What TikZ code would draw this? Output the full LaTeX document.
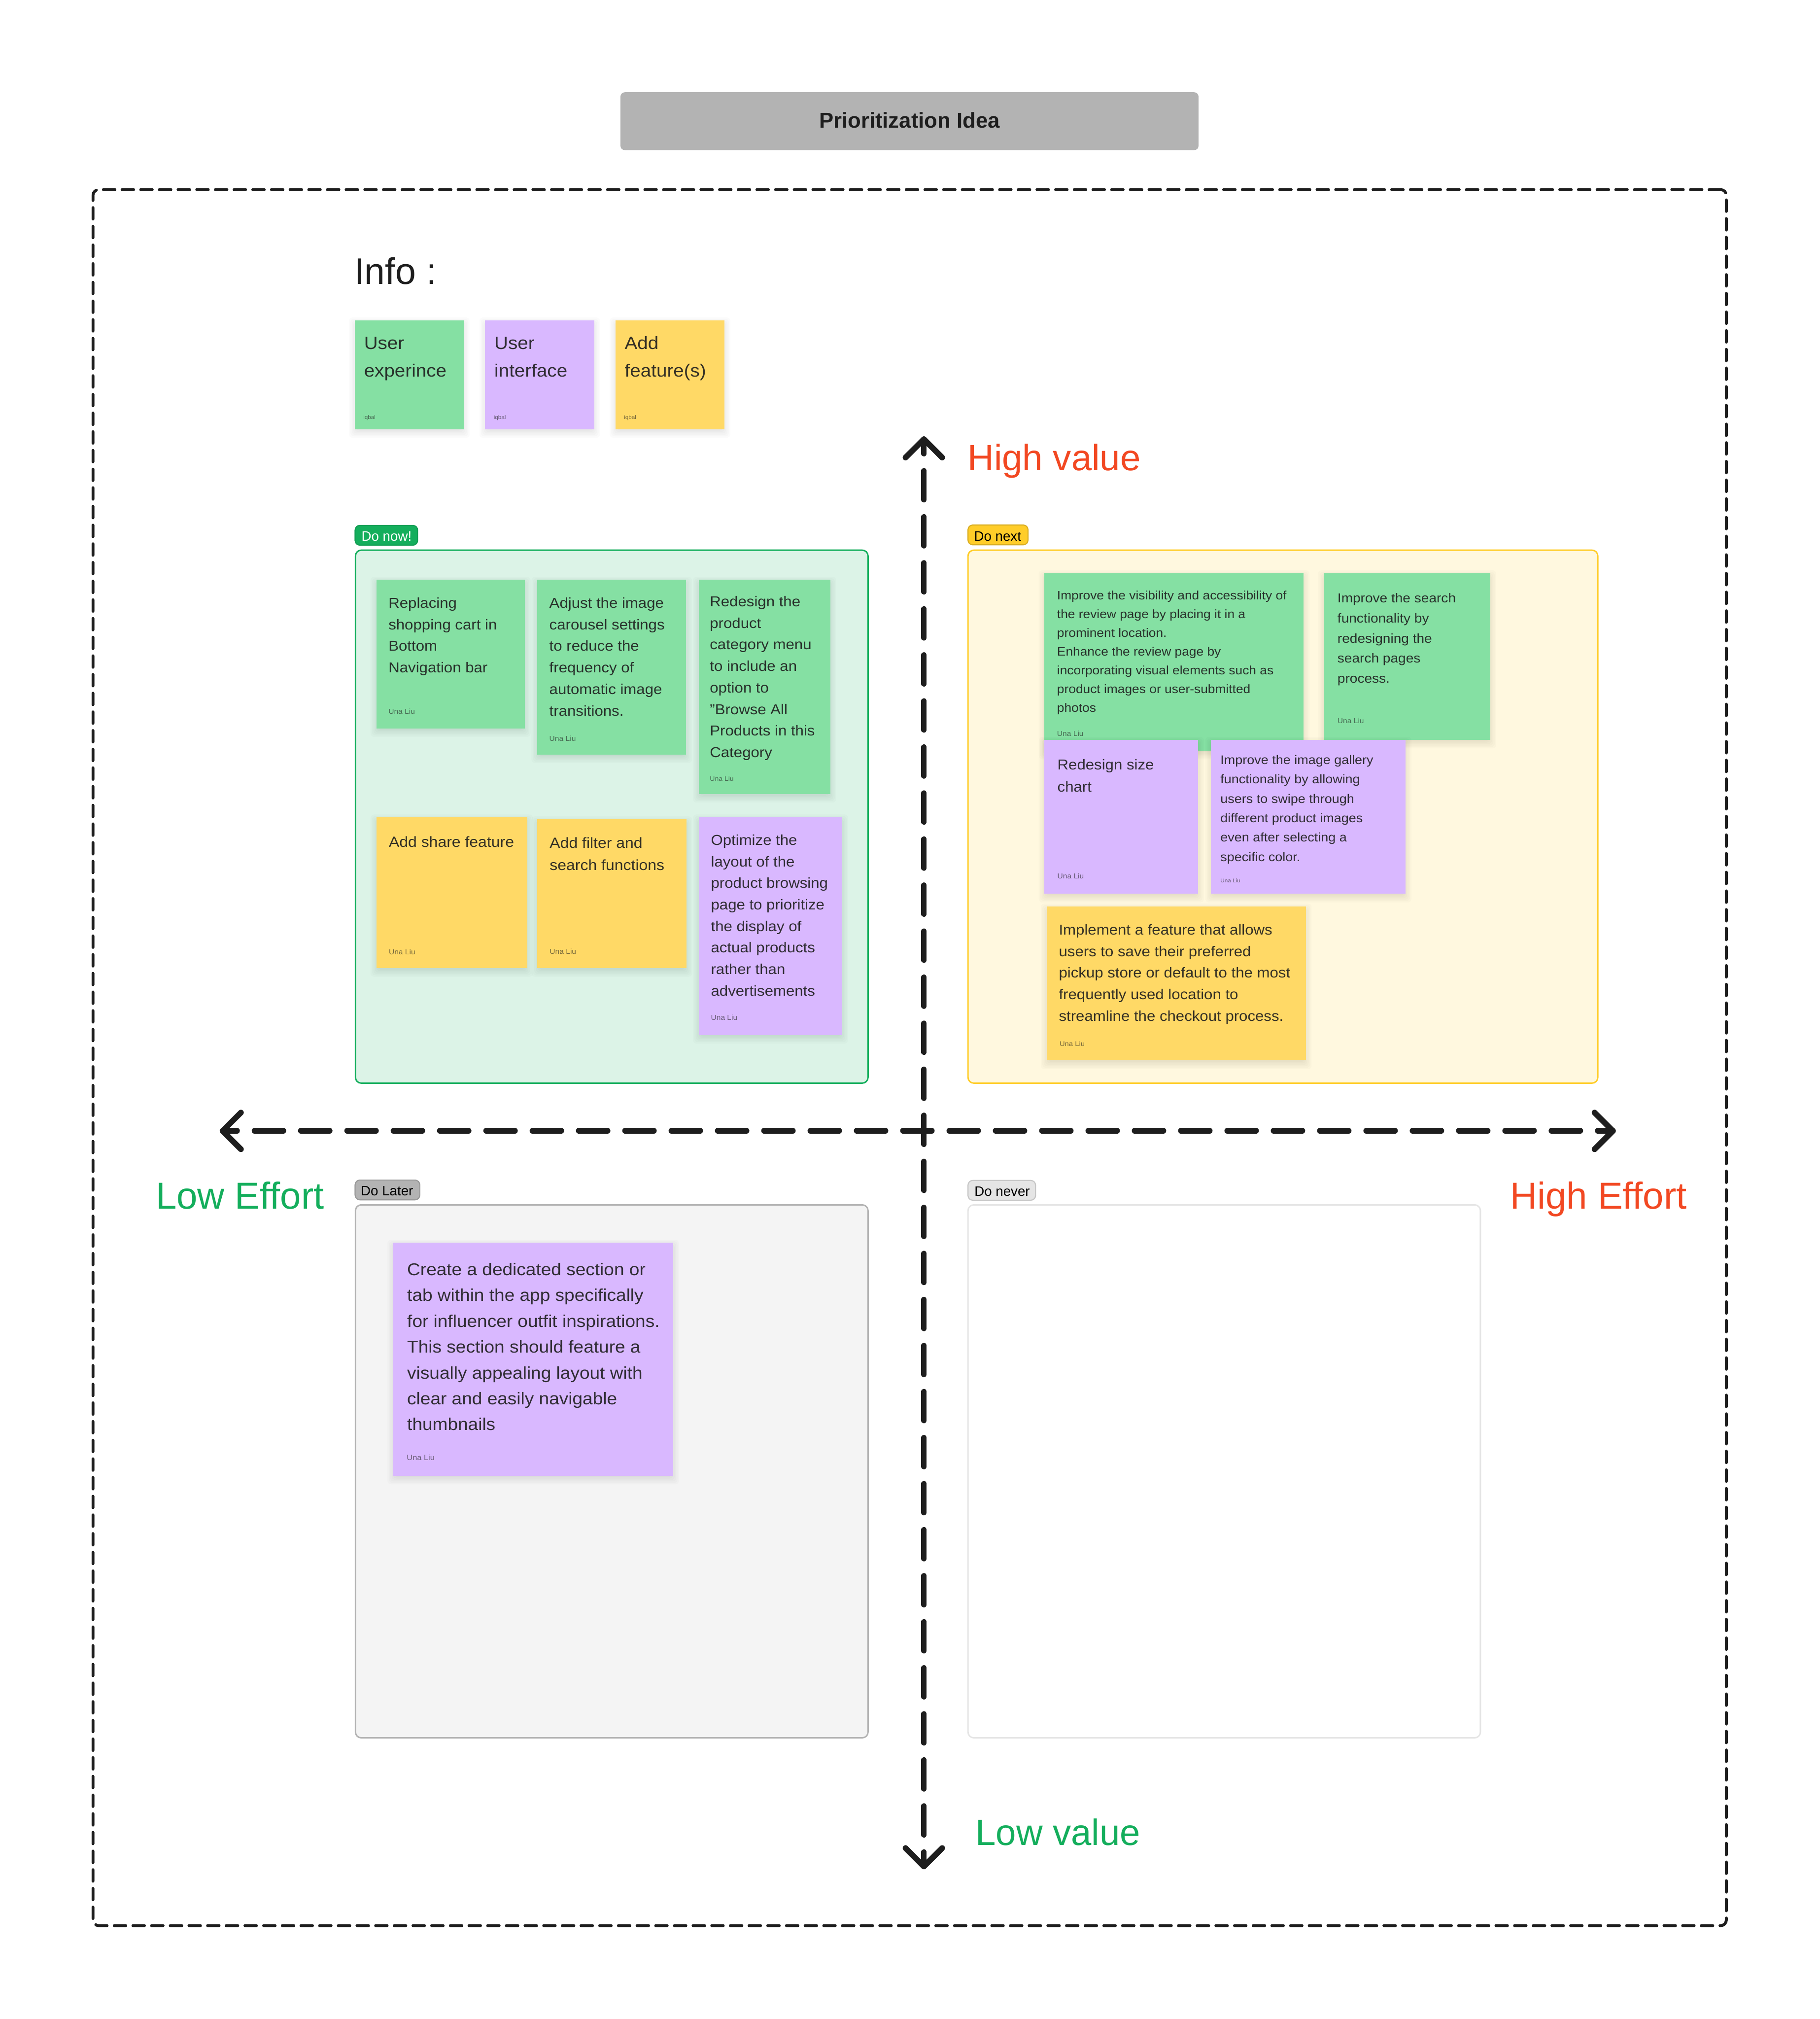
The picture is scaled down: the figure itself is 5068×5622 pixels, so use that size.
\documentclass[tikz,border=0pt]{standalone}
\usepackage{fontspec}
\setmainfont{Liberation Sans}[FakeStretch=1.07]
\newfontfamily\plainsans{Liberation Sans}
\definecolor{ink}{HTML}{1E1E1E}
\definecolor{notegreen}{HTML}{85E0A3}
\definecolor{notepurple}{HTML}{D9B8FF}
\definecolor{noteyellow}{HTML}{FFD966}
\definecolor{goodgreen}{HTML}{14AE5C}
\definecolor{hotred}{HTML}{F24822}
\definecolor{tagyellow}{HTML}{FFCD29}
\definecolor{taggrey}{HTML}{B3B3B3}
\tikzset{
  notebox/.style={rectangle,anchor=north west,inner sep=0pt,outer sep=0pt,draw=none},
  panelbox/.style={rectangle,anchor=north west,inner sep=0pt,outer sep=0pt,line width=0.8pt,rounded corners=3.2pt},
  tagbox/.style={rectangle,anchor=north west,inner sep=0pt,outer sep=0pt,line width=0.6pt,rounded corners=2.6pt},
  tagtext/.style={anchor=base west,inner sep=0pt,font=\plainsans\fontsize{7.6pt}{9pt}\selectfont},
  axisline/.style={ink,line width=3.2pt,line cap=round,line join=round},
  headline/.style={anchor=base west,inner sep=0pt,font=\plainsans\fontsize{20.4pt}{24pt}\selectfont},
  effortline/.style={anchor=base west,inner sep=0pt,font=\plainsans\fontsize{20.9pt}{24pt}\selectfont}
}
% name, x0, y0, x1, y1, colour
\newcommand{\stickynote}[6]{%
  \foreach \sp in {-4,0,4,8,12,16}{%
    \fill[black,opacity=0.014,rounded corners=2pt] (#2-\sp,#3-\sp+8) rectangle (#4+\sp,#5+\sp+8);}%
  \node[notebox,fill=#6,minimum width={(#4-#2)*0.2pt},minimum height={(#5-#3)*0.2pt}] (#1) at (#2,#3) {};}
% name, x, first baseline, size px, leading px, text
\newcommand{\notetext}[6]{%
  \pgfmathsetmacro{\ntfs}{#4*0.2}\pgfmathsetmacro{\ntld}{#5*0.2}\pgfmathsetmacro{\ntrh}{#4*0.18}%
  \node[anchor=north west,inner sep=0pt,outer sep=0pt,align=left,text=ink,text opacity=0.9,
        font=\fontsize{\ntfs pt}{\ntld pt}\selectfont] (#1) at ({#2-1},{#3-0.9*#4}) {\rule{0pt}{\ntrh pt}#6};}
% name, x, baseline, size px, text
\newcommand{\noteauthor}[5]{%
  \pgfmathsetmacro{\ntfs}{#4*0.2}%
  \node[anchor=base west,inner sep=0pt,outer sep=0pt,text=ink,text opacity=0.6,
        font=\fontsize{\ntfs pt}{\ntfs pt}\selectfont] (#1) at ({#2-1},#3) {#5};}
\begin{document}
\begin{tikzpicture}[x=0.2pt,y=-0.2pt]
\useasboundingbox (0,0) rectangle (5068,5622);
\fill[white] (0,0) rectangle (5068,5622);

% title
\node[rectangle,anchor=north west,inner sep=0pt,fill=taggrey,rounded corners=2.4pt,
      minimum width={(3339-1729)*0.2pt},minimum height={(417-256)*0.2pt}] (titlebar) at (1727,256) {};
\node[anchor=base,inner sep=0pt,text=ink,font=\plainsans\bfseries\fontsize{12pt}{14pt}\selectfont] (titletext) at (2533,356) {Prioritization Idea};

% outer frame
\node[rectangle,anchor=north west,inner sep=0pt,outer sep=0pt,draw=ink,line width=1.6pt,line cap=round,
      dash pattern=on 6.4pt off 4pt,rounded corners=3.2pt,
      minimum width={(4808-259)*0.2pt},minimum height={(5362-528)*0.2pt}] (frame) at (259,528) {};

% info
\node[anchor=base west,inner sep=0pt,text=ink,font=\plainsans\fontsize{20.6pt}{24pt}\selectfont] (info) at (986,791) {Info :};
\stickynote{legA}{988}{892}{1292}{1195}{notegreen}
\stickynote{legB}{1351}{892}{1655}{1195}{notepurple}
\stickynote{legC}{1714}{892}{2018}{1195}{noteyellow}
\notetext{legAt}{1015}{973}{49.5}{76}{User\\experince}
\notetext{legBt}{1378}{973}{49.5}{76}{User\\interface}
\notetext{legCt}{1741}{973}{49.5}{76}{Add\\feature(s)}
\noteauthor{legAa}{1013}{1167}{15}{iqbal}
\noteauthor{legBa}{1376}{1167}{15}{iqbal}
\noteauthor{legCa}{1739}{1167}{15}{iqbal}

% panels
\node[panelbox,draw=goodgreen,fill=goodgreen!15!white,minimum width={1427.5*0.2pt},minimum height={1484*0.2pt}] (panelnow) at (990,1532) {};
\node[panelbox,draw=tagyellow,fill=tagyellow!15!white,minimum width={1754*0.2pt},minimum height={1484*0.2pt}] (panelnext) at (2696,1532) {};
\node[panelbox,draw=taggrey,fill=black!4.5!white,minimum width={1427.5*0.2pt},minimum height={1484*0.2pt}] (panellater) at (990,3355) {};
\node[panelbox,draw=black!10!white,fill=white,minimum width={1427*0.2pt},minimum height={1484*0.2pt}] (panelnever) at (2696,3355) {};

% tags
\node[tagbox,fill=goodgreen,draw=goodgreen!90!black,minimum width={174*0.2pt},minimum height={55*0.2pt}] (tagnow) at (989,1463) {};
\node[tagtext,text=white] (tagnowt) at (1006,1507) {Do now!};
\node[tagbox,fill=tagyellow,draw=tagyellow!85!black,minimum width={167*0.2pt},minimum height={55*0.2pt}] (tagnext) at (2696,1462) {};
\node[tagtext,text=black] (tagnextt) at (2712,1507) {Do next};
\node[tagbox,fill=taggrey,draw=black!40!white,minimum width={180*0.2pt},minimum height={55*0.2pt}] (taglater) at (989,3286) {};
\node[tagtext,text=black] (taglatert) at (1004,3329) {Do Later};
\node[tagbox,fill=black!10!white,draw=black!22!white,minimum width={188*0.2pt},minimum height={55*0.2pt}] (tagnever) at (2696,3287) {};
\node[tagtext,text=black] (tagnevert) at (2713,3330) {Do never};

% Do now!
\stickynote{nA}{1048}{1614}{1462}{2028}{notegreen}
\stickynote{nB}{1496}{1614}{1911}{2101}{notegreen}
\stickynote{nC}{1946}{1614}{2313}{2211}{notegreen}
\stickynote{nD}{1048}{2276}{1468}{2696}{noteyellow}
\stickynote{nE}{1496}{2281}{1912}{2696}{noteyellow}
\stickynote{nF}{1946}{2276}{2346}{2882}{notepurple}
\notetext{nAt}{1083}{1693}{40}{60}{Replacing\\shopping cart in\\Bottom\\Navigation bar}
\notetext{nBt}{1531}{1693}{40}{60}{Adjust the image\\carousel settings\\to reduce the\\frequency of\\automatic image\\transitions.}
\notetext{nCt}{1978}{1689}{40}{60}{Redesign the\\product\\category menu\\to include an\\option to\\"Browse All\\Products in this\\Category}
\notetext{nDt}{1084}{2359}{41}{62}{Add share feature}
\notetext{nEt}{1532}{2361}{41}{62}{Add filter and\\search functions}
\notetext{nFt}{1981}{2353}{40}{60}{Optimize the\\layout of the\\product browsing\\page to prioritize\\the display of\\actual products\\rather than\\advertisements}
\noteauthor{nAa}{1083}{1988}{20}{Una Liu}
\noteauthor{nBa}{1531}{2063}{20}{Una Liu}
\noteauthor{nCa}{1978}{2175}{18}{Una Liu}
\noteauthor{nDa}{1084}{2658}{20}{Una Liu}
\noteauthor{nEa}{1532}{2656}{20}{Una Liu}
\noteauthor{nFa}{1981}{2841}{20}{Una Liu}

% Do next
\stickynote{xA}{2909}{1596}{3631}{2090}{notegreen}
\stickynote{xB}{3687}{1596}{4151}{2060}{notegreen}
\stickynote{xC}{2909}{2060}{3337}{2489}{notepurple}
\stickynote{xD}{3373}{2060}{3915}{2489}{notepurple}
\stickynote{xE}{2915}{2524}{3637}{2953}{noteyellow}
\notetext{xAt}{2945}{1670}{33.8}{52.2}{Improve the visibility and accessibility of\\the review page by placing it in a\\prominent location.\\Enhance the review page by\\incorporating visual elements such as\\product images or user-submitted\\photos}
\notetext{xBt}{3726}{1678}{36}{56}{Improve the search\\functionality by\\redesigning the\\search pages\\process.}
\notetext{xCt}{2946}{2143}{40}{62}{Redesign size\\chart}
\notetext{xDt}{3400}{2128}{34.6}{54}{Improve the image gallery\\functionality by allowing\\users to swipe through\\different product images\\even after selecting a\\specific color.}
\notetext{xEt}{2950}{2603}{40}{60}{Implement a feature that allows\\users to save their preferred\\pickup store or default to the most\\frequently used location to\\streamline the checkout process.}
\noteauthor{xAa}{2945}{2050}{20}{Una Liu}
\noteauthor{xBa}{3726}{2014}{20}{Una Liu}
\noteauthor{xCa}{2946}{2447}{20}{Una Liu}
\noteauthor{xDa}{3400}{2458}{15}{Una Liu}
\noteauthor{xEa}{2952}{2913}{19}{Una Liu}

% Do Later
\stickynote{lA}{1095}{3460}{1875}{4109}{notepurple}
\notetext{lAt}{1135}{3551}{47.5}{72}{Create a dedicated section or\\tab within the app specifically\\for influencer outfit inspirations.\\This section should feature a\\visually appealing layout with\\clear and easily navigable\\thumbnails}
\noteauthor{lAa}{1134}{4066}{21}{Una Liu}

% axes
\coordinate (top) at (2573,1223);
\coordinate (bottom) at (2573,5197);
\coordinate (left) at (620,3149);
\coordinate (right) at (4492,3149);
\draw[axisline,dash pattern=on 16pt off 9.64pt,dash phase=8pt] (top) -- (bottom);
\draw[axisline,dash pattern=on 16pt off 9.8pt,dash phase=8pt] (left) -- (right);
\coordinate (topL) at (2522,1274);
\coordinate (topR) at (2624,1274);
\coordinate (botL) at (2522,5146);
\coordinate (botR) at (2624,5146);
\coordinate (lefU) at (671,3098);
\coordinate (lefD) at (671,3200);
\coordinate (rigU) at (4441,3098);
\coordinate (rigD) at (4441,3200);
\draw[axisline] (topL) -- (top) -- (topR);
\draw[axisline] (botL) -- (bottom) -- (botR);
\draw[axisline] (lefU) -- (left) -- (lefD);
\draw[axisline] (rigU) -- (right) -- (rigD);

% axis labels
\node[headline,text=hotred] (highvalue) at (2694,1310) {High value};
\node[headline,text=goodgreen] (lowvalue) at (2716,5138) {Low value};
\node[effortline,text=goodgreen] (loweffort) at (433,3366) {Low Effort};
\node[effortline,text=hotred] (higheffort) at (4205,3366) {High Effort};
\end{tikzpicture}
\end{document}
